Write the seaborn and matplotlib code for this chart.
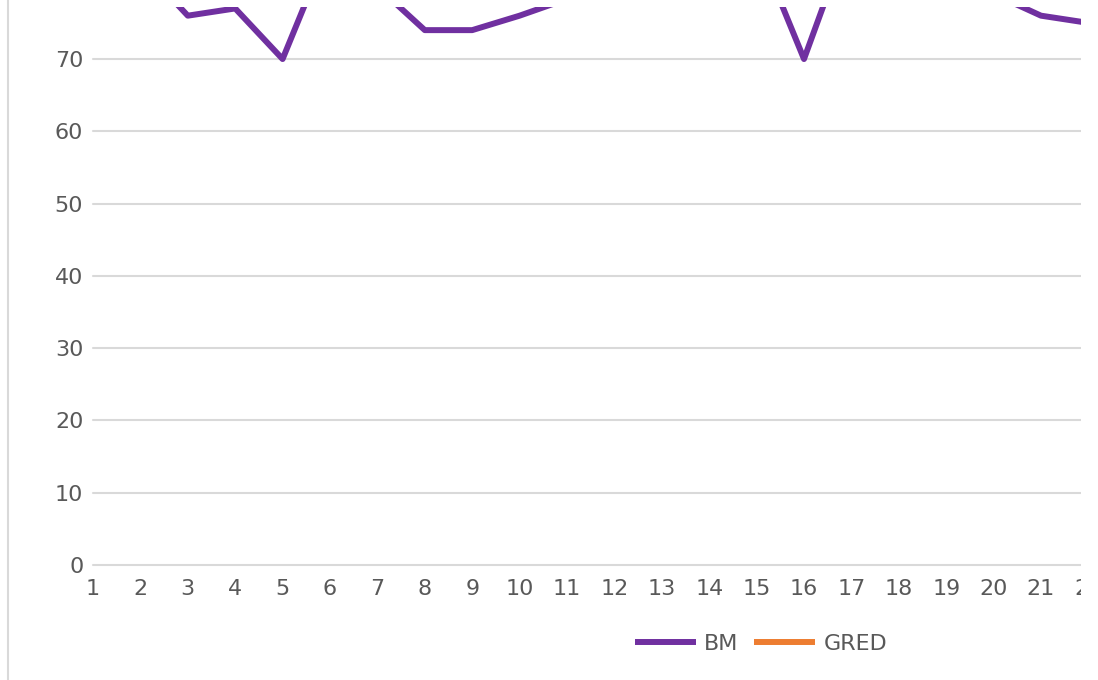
import pandas as pd
import matplotlib.pyplot as plt
import matplotlib.lines as mlines
import matplotlib.patches as mpatches
import seaborn as sns

# Data (values above ~77 are clipped off in the reference, estimated)
days = list(range(1, 23))
bm = [85, 83, 76, 77, 70, 86, 80, 74, 74, 76, 78.3, 80, 82, 84, 86, 70, 88, 85, 83, 79, 76, 75]
gred = []  # no visible points in the reference
y_ticks = [0, 10, 20, 30, 40, 50, 60, 70]

df = pd.DataFrame({'Day': days, 'BM': bm})

sns.set_style('white')
plt.rcParams['font.family'] = ['DejaVu Sans']

fig = plt.figure(figsize=(10.98, 6.8), dpi=100)
# axes run a bit past the right edge of the picture (reference is cropped)
ax = fig.add_axes([93 / 1098, 115 / 680, 995.4 / 1098, 558 / 680])

sns.lineplot(data=df, x='Day', y='BM', color='#7030a0', linewidth=4.3, ax=ax, legend=False)
ax.plot(gred, gred, color='#ed7d31', linewidth=4.3)

ax.set_xlim(1, 22)
ax.set_ylim(0, 77.2)
ax.set_xticks(days)
ax.set_yticks(y_ticks)
ax.yaxis.grid(True, color='#d9d9d9', linewidth=1.5)
ax.set_axisbelow(True)
for gl in ax.get_ygridlines():
    gl.set_clip_on(False)
for s in ax.spines.values():
    s.set_visible(False)
ax.tick_params(axis='both', length=0, labelsize=16, colors='#595959')
ax.tick_params(axis='y', pad=7)
ax.tick_params(axis='x', pad=10)
ax.set_xlabel('')
ax.set_ylabel('')

# Legend at bottom
h_bm = mlines.Line2D([], [], color='#7030a0', linewidth=4.3, solid_capstyle='butt', label='BM')
h_gred = mlines.Line2D([], [], color='#ed7d31', linewidth=4.3, solid_capstyle='butt', label='GRED')
fig.legend(handles=[h_bm, h_gred], loc='center', bbox_to_anchor=(761 / 1098, 1 - 644 / 680),
           ncol=2, frameon=False, fontsize=16, labelcolor='#595959',
           handlelength=2.75, handletextpad=0.36, columnspacing=0.72)

# crop everything right of x=1081 like the reference
fig.add_artist(mpatches.Rectangle((1081 / 1098, 0), 17 / 1098, 1, transform=fig.transFigure,
                                  facecolor='white', edgecolor='none', zorder=10))

# Left chart border
fig.add_artist(mlines.Line2D([8 / 1098, 8 / 1098], [0, 1], color='#d9d9d9', linewidth=1.5))

plt.savefig('out.png', dpi=100)
